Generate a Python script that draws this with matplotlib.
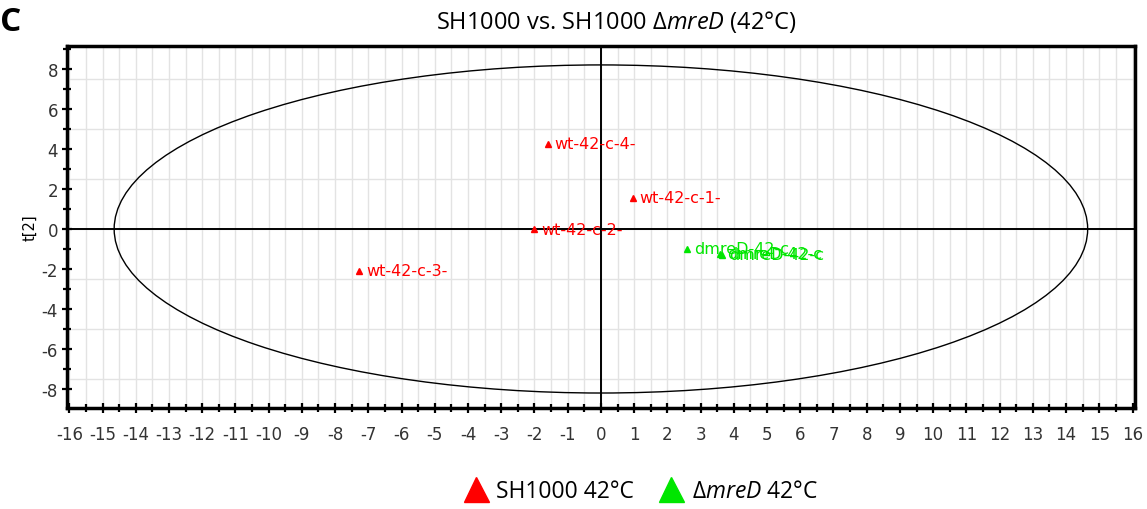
import numpy as np
import matplotlib
matplotlib.use('Agg')
import matplotlib.pyplot as plt
from matplotlib.patches import Ellipse
from matplotlib.lines import Line2D
from matplotlib.ticker import MultipleLocator

# scores (t[1], t[2])
wt_labels = ['wt-42-c-4-', 'wt-42-c-1-', 'wt-42-c-2-', 'wt-42-c-3-']
wt_t1 = [-1.6, 0.96, -2.0, -7.28]
wt_t2 = [4.25, 1.55, -0.02, -2.1]

mut_labels = ['dmreD-42-c', 'dmreD-42-c', 'dmreD-42-c']
mut_t1 = [2.59, 3.58, 3.64]
mut_t2 = [-1.0, -1.25, -1.3]

# Hotelling T2 ellipse semi-axes
ell_a = 14.65
ell_b = 8.2

RED = '#ff0000'
GREEN = '#00e600'

plt.rcParams['axes.unicode_minus'] = False
plt.rcParams['mathtext.fontset'] = 'custom'
plt.rcParams['mathtext.rm'] = 'Open Sans'
plt.rcParams['mathtext.it'] = 'Open Sans:italic'

fig = plt.figure(figsize=(11.47, 5.10), dpi=100)
ax = fig.add_axes([0.0584, 0.198, 0.931, 0.71])

ax.set_xlim(-16.07, 16.07)
ax.set_ylim(-8.95, 9.15)

# grid
for gx in np.arange(-16, 16.01, 0.5):
    ax.axvline(gx, color='#e3e3e3', lw=1.0, zorder=0)
for gy in np.arange(-7.5, 7.6, 2.5):
    ax.axhline(gy, color='#e3e3e3', lw=1.0, zorder=0)

ax.axhline(0, color='black', lw=1.4, zorder=1)
ax.axvline(0, color='black', lw=1.4, zorder=1)

ax.add_patch(Ellipse((0, 0), 2 * ell_a, 2 * ell_b, fill=False,
                     edgecolor='black', lw=1.0, zorder=2))

ax.plot(wt_t1, wt_t2, '^', color=RED, markersize=5, zorder=3)
ax.plot(mut_t1, mut_t2, '^', color=GREEN, markersize=5, zorder=3)
for x, y, s in zip(wt_t1, wt_t2, wt_labels):
    ax.annotate(s, (x, y), xytext=(5, 0), textcoords='offset points',
                va='center', ha='left', color=RED, fontsize=11.5,
                family='DejaVu Sans', zorder=4)
for x, y, s in zip(mut_t1, mut_t2, mut_labels):
    ax.annotate(s, (x, y), xytext=(5, 0), textcoords='offset points',
                va='center', ha='left', color=GREEN, fontsize=11.5,
                family='DejaVu Sans', zorder=4)

ax.xaxis.set_major_locator(MultipleLocator(1))
ax.xaxis.set_minor_locator(MultipleLocator(0.5))
ax.yaxis.set_major_locator(MultipleLocator(2))
ax.yaxis.set_minor_locator(MultipleLocator(1))
ax.tick_params(which='both', direction='inout', length=7, width=1.6,
               labelsize=12, colors='black', labelcolor='#333333')
ax.tick_params(which='minor', length=6)
ax.tick_params(axis='x', pad=9)
ax.tick_params(axis='y', pad=3)

for sp in ax.spines.values():
    sp.set_linewidth(2.5)
    sp.set_color('black')

ax.set_ylabel('t[2]', fontsize=10.5, labelpad=3)

fig.text(0.537, 0.957, r'SH1000 vs. SH1000 $\Delta\mathit{mreD}$ (42°C)',
         ha='center', va='center', fontsize=17, family='Open Sans')
fig.text(0.0, 0.955, 'C', ha='left', va='center', fontsize=24,
         fontweight='bold', family='Open Sans')

handles = [Line2D([], [], marker='^', color=RED, ls='none', markersize=18),
           Line2D([], [], marker='^', color=GREEN, ls='none', markersize=18)]
fig.legend(handles, ['SH1000 42°C', r'$\Delta\mathit{mreD}$ 42°C'],
           loc='center', bbox_to_anchor=(0.558, 0.035), ncol=2,
           frameon=False, prop={'family': 'Open Sans', 'size': 16.5},
           handletextpad=0.3, columnspacing=1.0, handlelength=1.2)

fig.savefig('out.png', dpi=100)
